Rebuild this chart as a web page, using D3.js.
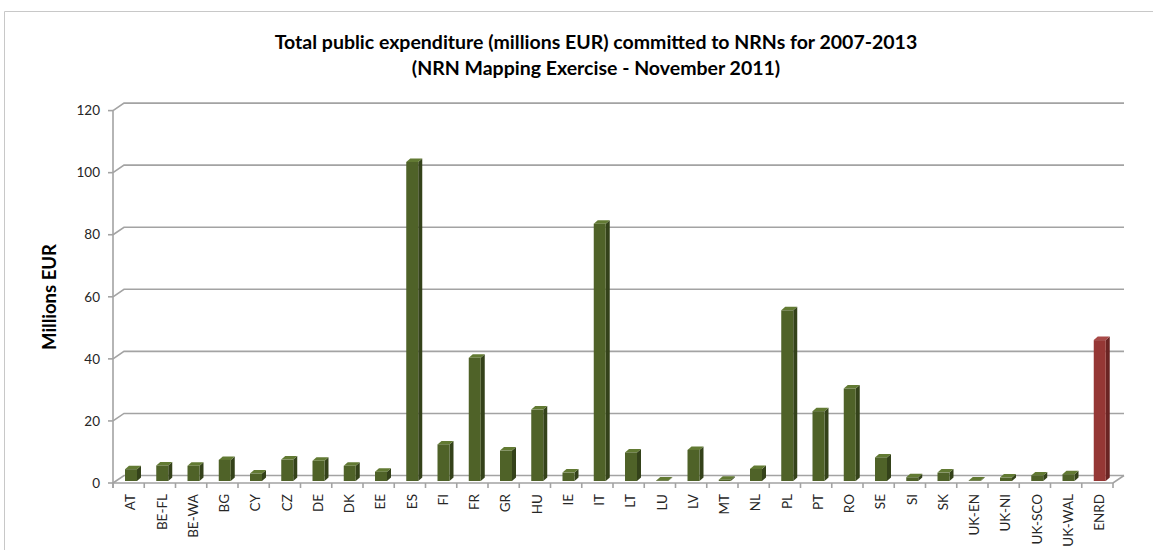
<!DOCTYPE html>
<html>
<head>
<meta charset="utf-8">
<script src="https://cdn.jsdelivr.net/npm/d3@7"></script>
<style>
  html, body { margin: 0; padding: 0; background: #ffffff; }
  svg { display: block; font-family: Lato, "Open Sans", sans-serif; }
</style>
</head>
<body>
<svg id="chart" width="1153" height="550"></svg>
<script>
// Network codes (member-state NRNs plus the European network)
const categories = ["AT","BE-FL","BE-WA","BG","CY","CZ","DE","DK","EE","ES","FI","FR","GR","HU","IE","IT","LT","LU","LV","MT","NL","PL","PT","RO","SE","SI","SK","UK-EN","UK-NI","UK-SCO","UK-WAL","ENRD"];
// Public expenditure committed, millions EUR
const values = [3.8,5.0,4.9,6.8,2.4,6.9,6.5,4.9,3.0,102.8,11.8,39.7,9.8,23.0,2.7,82.9,9.2,0.2,10.0,0.4,3.9,55.0,22.5,29.8,7.6,1.2,2.7,0.2,1.1,1.8,2.2,45.4];
const yTicks = [0,20,40,60,80,100,120];
const titleLines = ["Total public expenditure (millions EUR) committed to NRNs for 2007-2013",
                    "(NRN Mapping Exercise - November 2011)"];
const yTitle = "Millions EUR";

const svg = d3.select("#chart");

// chart frame
svg.append("path")
  .attr("d", "M4.5,550 L4.5,11.5 L1153,11.5")
  .attr("fill", "none").attr("stroke", "#c8c8c8").attr("stroke-width", 1);

// 3-D geometry: front plane and back-wall depth offset
const depth = { dx: 11, dy: -7.5 };
const x = d3.scaleBand().domain(categories).range([113, 1113]).paddingInner(0).paddingOuter(0);
const y = d3.scaleLinear().domain([0, 120]).range([483, 110.6]);
const x0 = 113, x1 = 1113;

const gridColor = "#a3a3a3";
const grid = svg.append("g").attr("fill", "none").attr("stroke", gridColor).attr("stroke-width", 1.6);

// back-wall gridlines plus their side-wall diagonals
yTicks.forEach(t => {
  grid.append("path")
    .attr("d", `M${x0},${y(t)} L${x0 + depth.dx},${y(t) + depth.dy} L${x1 + depth.dx},${y(t) + depth.dy}`);
});
// floor front edge and right edge
grid.append("path")
  .attr("d", `M${x0},${y(0)} L${x1},${y(0)} L${x1 + depth.dx},${y(0) + depth.dy}`);

// value axis (front left edge) with ticks
const axisG = svg.append("g");
axisG.append("line")
  .attr("x1", x0).attr("x2", x0).attr("y1", y(120)).attr("y2", y(0) + 5)
  .attr("stroke", gridColor).attr("stroke-width", 1.6);
axisG.selectAll("line.tick").data(yTicks).enter().append("line")
  .attr("x1", x0 - 5).attr("x2", x0).attr("y1", d => y(d)).attr("y2", d => y(d))
  .attr("stroke", gridColor).attr("stroke-width", 1.6);
axisG.selectAll("text").data(yTicks).enter().append("text")
  .attr("x", 100).attr("y", d => y(d)).attr("dy", "0.35em")
  .attr("text-anchor", "end").attr("font-size", 13.5).attr("fill", "#262626")
  .text(d => d);

// category axis ticks at band boundaries
const bounds = categories.map(c => x(c)).concat([x1]);
svg.append("g").selectAll("line").data(bounds).enter().append("line")
  .attr("x1", d => d).attr("x2", d => d).attr("y1", y(0)).attr("y2", y(0) + 5)
  .attr("stroke", gridColor).attr("stroke-width", 1.6);

// category labels, rotated
svg.append("g").selectAll("text").data(categories).enter().append("text")
  .attr("transform", d => `translate(${x(d) + x.bandwidth() / 2 + 2},494) rotate(-90)`)
  .attr("dy", "0.35em")
  .attr("text-anchor", "end").attr("font-size", 13.5).attr("fill", "#262626")
  .text(d => d);

// 3-D columns
const colours = {
  normal: { front: "#4f6228", side: "#34421a", top: "#627a33" },
  enrd:   { front: "#953735", side: "#6a2423", top: "#a84947" }
};
const barW = 12, barInset = 12, barLift = 2, sideDx = 4, sideDy = -3.5;
const bars = svg.append("g");
categories.forEach((c, i) => {
  const col = c === "ENRD" ? colours.enrd : colours.normal;
  const left = x(c) + barInset;
  const right = left + barW;
  const bottom = y(0) - barLift;
  const top = y(values[i]) - barLift;
  const g = bars.append("g");
  g.append("path").attr("fill", col.side)
    .attr("d", `M${right},${top} L${right + sideDx},${top + sideDy} L${right + sideDx},${bottom + sideDy} L${right},${bottom} Z`);
  g.append("path").attr("fill", col.top)
    .attr("d", `M${left},${top} L${left + sideDx},${top + sideDy} L${right + sideDx},${top + sideDy} L${right},${top} Z`);
  g.append("rect").attr("fill", col.front)
    .attr("x", left).attr("y", top).attr("width", barW).attr("height", Math.max(0, bottom - top));
});

// titles
svg.append("g").selectAll("text").data(titleLines).enter().append("text")
  .attr("x", 596).attr("y", (d, i) => 49 + i * 26)
  .attr("text-anchor", "middle").attr("font-size", 19.5).attr("font-weight", "bold")
  .attr("fill", "#000").text(d => d);

svg.append("text")
  .attr("transform", "translate(56,297) rotate(-90)")
  .attr("text-anchor", "middle").attr("font-size", 18.5).attr("font-weight", "bold")
  .attr("fill", "#000").text(yTitle);
</script>
</body>
</html>
